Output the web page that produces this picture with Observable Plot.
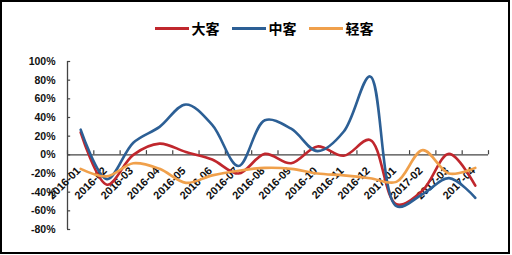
<!DOCTYPE html>
<html>
<head>
<meta charset="utf-8">
<script src="https://cdn.jsdelivr.net/npm/d3@7"></script>
<script src="https://cdn.jsdelivr.net/npm/@observablehq/plot@0.6"></script>
<style>
  html, body { margin: 0; padding: 0; background: #fff; }
  #wrap { position: relative; width: 512px; height: 255px; overflow: hidden; background: #fff; }
  #frame { position: absolute; left: 0; top: 0; width: 510px; height: 254px; box-sizing: border-box; border: 2px solid #000; pointer-events: none; }
  #legend { height: 46px; box-sizing: border-box; padding-top: 10px; padding-left: 16px; display: flex; justify-content: center; align-items: center; gap: 12px;
            font-family: "Noto Sans CJK SC", sans-serif; font-weight: bold; font-size: 14px; color: #000; }
  .item { display: flex; align-items: center; gap: 3px; }
  .sw { width: 34px; height: 3px; }
  svg { display: block; }
</style>
</head>
<body>
<div id="wrap">
  <div id="legend"></div>
  <div id="chart"></div>
  <div id="frame"></div>
</div>
<script>
const categories = ["2016-01","2016-02","2016-03","2016-04","2016-05","2016-06","2016-07","2016-08",
                    "2016-09","2016-10","2016-11","2016-12","2017-01","2017-02","2017-03","2017-04"];
const seriesNames = ["大客", "中客", "轻客"];
const seriesColors = ["#C0272D", "#2C5F95", "#F0A04B"];
const bigValues   = [24, -32, 0, 12, 3, -5, -20, 1, -9, 9, -1, 16, -53, -38, 1, -33];
const midValues   = [27, -26, 13, 30, 54, 32, -12, 37, 28, 4, 25, 84, -55, -42, -25, -46];
const lightValues = [-15, -23, -9, -15, -30, -22, -17, -14, -15, -20, -22, -25, -29, 5, -20, -14];
const yTicks = [100, 80, 60, 40, 20, 0, -20, -40, -60, -80];

const seriesValues = [bigValues, midValues, lightValues];
const rows = [];
seriesNames.forEach((s, k) => {
  categories.forEach((c, i) => rows.push({i, cat: c, series: s, value: seriesValues[k][i]}));
});
const boundaries = categories.map((c, i) => i - 0.5).concat([categories.length - 0.5]);

// legend
const legend = document.getElementById("legend");
seriesNames.forEach((s, k) => {
  const it = document.createElement("div");
  it.className = "item";
  const sw = document.createElement("div");
  sw.className = "sw";
  sw.style.background = seriesColors[k];
  const t = document.createElement("span");
  t.textContent = s;
  it.appendChild(sw); it.appendChild(t);
  legend.appendChild(it);
});

const font = "'Liberation Sans', Arial, sans-serif";
const chart = Plot.plot({
  width: 512,
  height: 209,
  marginLeft: 67,
  marginRight: 24,
  marginTop: 15,
  marginBottom: 26,
  style: {fontFamily: font, background: "transparent", overflow: "visible"},
  x: {type: "linear", domain: [-0.5, categories.length - 0.5], axis: null},
  y: {domain: [-80, 100], axis: null},
  color: {domain: seriesNames, range: seriesColors},
  marks: [
    // y axis line and ticks
    Plot.ruleX([-0.5], {y1: -80, y2: 100, stroke: "#444", strokeWidth: 1.3}),
    Plot.ruleY(yTicks, {x1: -0.5, x2: -0.38, y: d => d, stroke: "#444", strokeWidth: 1.2}),
    Plot.text(yTicks, {x: -0.5, y: d => d, text: d => d + "%", textAnchor: "end", dx: -12,
                       fontWeight: "bold", fontSize: 10.5, fill: "#111"}),
    // zero line with upward ticks
    Plot.ruleY([0], {x1: -0.5, x2: categories.length - 0.5, stroke: "#444", strokeWidth: 1.3}),
    Plot.ruleX(boundaries, {x: d => d, y1: 0, y2: 4.5, stroke: "#444", strokeWidth: 1.2}),
    // category labels
    Plot.text(categories, {x: (d, i) => i, y: 0, text: d => d, rotate: -45, textAnchor: "end",
                           dx: -2, dy: 14, fontWeight: "bold", fontSize: 11, fill: "#111"}),
    // series
    Plot.line(rows, {x: "i", y: "value", stroke: "series", z: "series", curve: "catmull-rom", strokeWidth: 2.6})
  ]
});
document.getElementById("chart").appendChild(chart);
</script>
</body>
</html>
